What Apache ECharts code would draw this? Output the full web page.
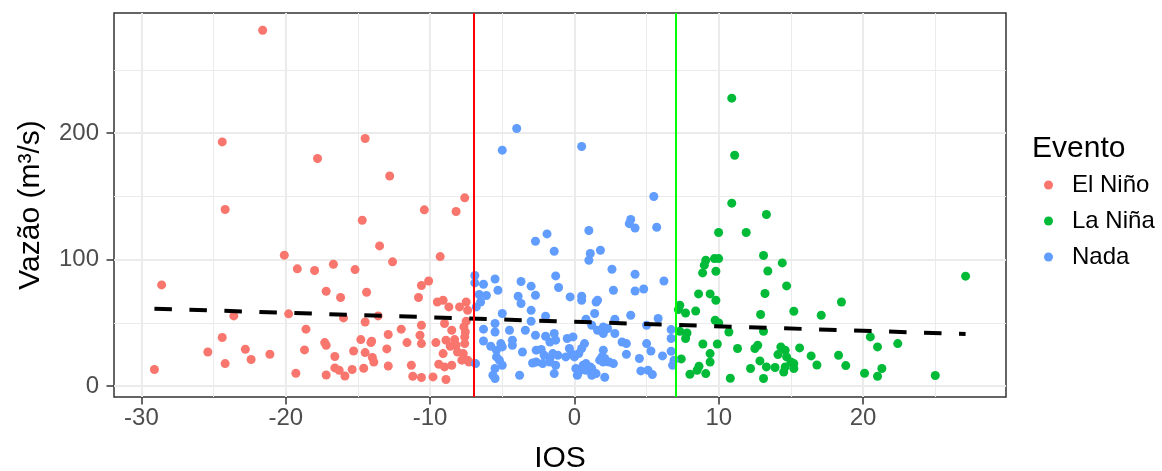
<!DOCTYPE html>
<html><head><meta charset="utf-8">
<script src="https://cdn.jsdelivr.net/npm/echarts@6/dist/echarts.min.js"></script>
<style>html,body{margin:0;padding:0;background:#fff}#c{width:1162px;height:471px}</style>
</head><body><div id="c"></div><script>
const categories = ['El Niño', 'La Niña', 'Nada'];
const colors = ['#F8766D', '#00BA38', '#619CFF'];

const elNino = [
[-21.6,281.4],[-24.4,193.1],[-14.5,195.8],[-17.8,180],[-12.8,166.2],[-24.2,139.7],[-14.7,131.2],[-13.5,110.9],
[-20.1,103.6],[-12.6,98.3],[-19.2,92.8],[-18.0,91.5],[-16.7,96.4],[-15.2,92.2],[-28.6,80.1],[-17.2,75.1],
[-16.2,70.1],[-14.4,74.3],[-19.8,57.2],[-23.6,55.6],[-16.0,54.0],[-14.5,50.8],[-13.6,55.6],[-18.6,45.1],
[-24.4,38.5],[-12.9,40.9],[-12.0,45.1],[-17.3,34.5],[-17.2,32.4],[-14.8,36.9],[-14.05,35.6],[-14.1,34.5],
[-25.4,27.1],[-22.8,29.2],[-18.7,28.7],[-21.1,25.3],[-22.4,21.1],[-24.2,17.9],[-15.3,27.9],[-14.5,26.6],
[-13.0,29.5],[-16.6,23.5],[-14.0,22.7],[-13.9,19.2],[-29.1,13.2],[-16.6,14.5],[-16.3,12.6],[-15.4,13.2],
[-14.6,14.2],[-12.9,16.0],[-19.3,10.3],[-17.2,8.9],[-15.9,8.1],
[-7.6,148.9],[-10.4,139.4],[-8.2,138.1],[-9.3,102.5],[-10.1,83.2],[-10.6,79.6],[-10.8,70.1],[-9.5,66.6],
[-9.1,68],[-8.7,62.7],[-7.96,62.7],[-7.5,66.6],[-7.4,60],[-10.6,48.2],[-9.0,49.6],[-8.5,44.3],[-7.66,46.9],
[-7.5,51.4],[-7.56,42.9],[-7.6,39],[-11.6,34.5],[-9.6,34.5],[-8.9,36.4],[-8.3,36.9],[-8.2,32.4],[-8.6,31.6],
[-7.6,33.7],[-10.7,40.3],[-10.6,33.7],[-9.1,25.8],[-8.1,27.1],[-7.7,25.8],[-7.8,20.6],[-7.4,20.6],[-7.3,19.2],
[-11.3,16.6],[-9.4,17.4],[-9.0,15.3],[-8.5,16.6],[-11.2,7.9],[-10.6,6.9],[-9.8,7.4],[-8.9,5.3]
];

const laNina = [
[10.9,227.7],[11.1,182.6],[10.9,144.7],[13.3,135.7],[9.99,121.5],[11.9,121.5],[13.1,103.3],[14.4,97.5],
[9.1,99.6],[9.0,95.7],[8.88,89.6],[9.7,100.9],[9.99,100.9],[9.8,90.9],[13.4,91.1],[14.7,79.3],[8.6,73],
[9.4,73],[9.8,68],[13.2,73.3],[7.3,64],[7.2,60.6],[7.7,57.9],[8.4,59.5],[12.9,56.7],[15.2,59.3],[9.75,52.2],
[10.0,50],[10.7,42.9],[13.1,43.5],[7.3,43.5],[7.8,42.1],[7.7,37.7],[8.9,33.4],[9.9,33.4],[11.3,29.8],
[12.5,29.8],[12.7,32.4],[14.3,31.1],[14.6,28.5],[14.1,25],[15.6,30.3],[16.4,24],[16.8,16.8],[18.3,24.5],
[18.8,16.3],[9.4,25.8],[9.4,19.2],[7.4,21.6],[8.63,15.8],[8.5,12.6],[9.1,10],[8.0,9.5],[10.8,6.3],[12.85,20],
[13.3,15.3],[13.9,14.8],[12.2,14],[14.7,23.2],[15.0,19.2],[15.2,17.9],[15.2,14],[14.6,15.3],[14.5,11.3],
[13.1,6.1],[17.1,56.1],[18.5,66.6],[20.5,39],[21.0,31.1],[22.4,33.7],[20.1,10.3],[21.0,7.9],[21.3,14],
[25.0,8.5],[27.1,87]
];

const nada = [
[-4.0,203.7],[-5.0,186.6],[0.5,189.5],[5.5,150],[3.9,131.8],[3.8,128.5],[4.2,125.1],[5.7,125.7],[1.0,123.1],
[-2.7,114.6],[-1.9,120.4],[-1.4,106.7],[1.1,104.9],[1.0,99.6],[1.8,107.5],[2.6,92.5],[4.2,88.5],[6.2,83.2],
[-1.3,87.2],[-6.9,87.5],[-6.9,81.7],[-6.3,80.6],[-5.5,84.8],[-5.3,75.9],[-3.7,82.8],[-3.0,79.1],[-2.7,71.9],
[-1.1,78],[-3.9,71.1],[-3.7,65.4],[-6.6,72.5],[-6.1,71.7],[-0.3,70.6],[0.5,71.1],[0.5,68],[1.5,66.6],[1.6,68],
[2.7,75.9],[4.2,75.3],[4.8,76.9],[-3.0,60],[-5.0,57.5],[-6.8,62.7],[-6.5,66.6],[-2.0,55.3],[-3.0,51.4],
[-5.5,49.6],[-5.5,42.9],[-6.3,45.1],[-4.5,44.3],[-3.4,44.3],[1.4,57.5],[0.8,53],[1.2,48.2],[2.0,46.9],
[2.3,45.6],[1.6,44.3],[2.8,53],[3.9,56.1],[5.0,48.2],[5.8,53.5],[2.8,41.7],[2.0,41.7],[3.3,35],[3.6,33.7],
[5.0,33.7],[5.3,27.9],[4.5,21.9],[3.6,25.3],[6.1,24],[6.7,44.8],[6.7,37.7],[6.7,27.7],[6.8,16.6],[6.9,20.6],
[4.6,12.1],[5.1,12.6],[5.4,9.2],[2.1,7.1],[1.5,10],[1.1,15.3],[0.6,16.6],[0.2,8.7],[0.1,14],[2.0,19.2],
[2.4,19.2],[2.7,17.9],[0.8,17.9],[0.8,12.6],[1.2,14],[1.2,8.7],[0.3,11.3],[-0.1,39],[0.7,33.7],[0.5,29.8],
[0.3,25.8],[0.0,23.2],[-0.2,25.8],[2.0,28.5],[1.9,23.2],[2.1,21.9],[1.75,20.6],[-2.7,40.3],[-2.0,39.5],
[-1.4,41.7],[-1.3,36.4],[-1.7,35],[-0.5,37.7],[-0.35,29.8],[-6.3,35.8],[-5.8,31.6],[-5.4,28.5],[-5.1,33.7],
[-5.0,31.1],[-4.3,36.4],[-4.3,32.4],[-5.4,23.2],[-5.2,20.6],[-5.0,16.6],[-5.5,14],[-5.65,8.7],[-5.5,6.1],
[-3.6,27.1],[-2.65,28.5],[-2.3,29],[-2.1,24.5],[-1.7,21.9],[-1.5,25.8],[-1.15,24.5],[-1.7,19.2],[-2.2,17.9],
[-2.65,19.2],[-2.9,18.4],[-1.3,16.6],[-1.4,10],[-3.8,8.7],[-6.85,17.9],[-0.6,23.2]
];

const xTicks = [-30, -20, -10, 0, 10, 20];
const xMinor = [-25, -15, -5, 5, 15, 25];
const yTicks = [0, 100, 200];
const yMinor = [50, 150, 250];
const trendLine = [[-29.1, 61.3], [27.1, 41.3]];
const vLines = [-7, 7];
const vLineColors = ['#FF0000', '#00FF00'];

const FONT = '"Liberation Sans", Arial, Helvetica, sans-serif';
const chart = echarts.init(document.getElementById('c'), null, {renderer: 'canvas'});

const gridLineData = [
  ...xMinor.map(v => ({xAxis: v, lineStyle: {color: '#EBEBEB', width: 1, type: 'solid'}})),
  ...yMinor.map(v => ({yAxis: v, lineStyle: {color: '#EBEBEB', width: 1, type: 'solid'}})),
  ...xTicks.map(v => ({xAxis: v, lineStyle: {color: '#EBEBEB', width: 2, type: 'solid'}})),
  ...yTicks.map(v => ({yAxis: v, lineStyle: {color: '#EBEBEB', width: 2, type: 'solid'}}))
];

const pointSeries = [elNino, laNina, nada].map((d, i) => ({
  name: categories[i], type: 'scatter', data: d, symbol: 'circle', symbolSize: 9,
  itemStyle: {color: colors[i], opacity: 1}, z: 2, silent: true
}));

chart.setOption({
  animation: false,
  backgroundColor: '#fff',
  title: {
    text: 'Evento', left: 1032, top: 134, padding: 0,
    textStyle: {fontSize: 30, fontWeight: 'normal', color: '#000', fontFamily: FONT}
  },
  legend: {
    data: categories, orient: 'vertical', left: 1044, top: 173, padding: 0,
    itemWidth: 9, itemHeight: 9, itemGap: 12, icon: 'circle', selectedMode: false,
    textStyle: {fontSize: 24, color: '#000', fontFamily: FONT, lineHeight: 24, padding: [0, 0, 0, 14]}
  },
  grid: {
    left: 114, right: 156, top: 13, bottom: 74, show: true, outerBoundsMode: 'none', containLabel: false,
    backgroundColor: '#fff', borderColor: '#333333', borderWidth: 1.5
  },
  xAxis: {
    type: 'value', min: -31.9, max: 29.9,
    name: 'IOS', nameLocation: 'middle', nameGap: 47,
    nameTextStyle: {fontSize: 30, color: '#000', fontFamily: FONT},
    axisLine: {show: false, onZero: false},
    axisTick: {show: true, customValues: xTicks, length: 7.5, lineStyle: {color: '#333333', width: 1.5}},
    axisLabel: {customValues: xTicks, fontSize: 24, color: '#4D4D4D', margin: 9, fontFamily: FONT},
    splitLine: {show: false}
  },
  yAxis: {
    type: 'value', min: -8.5, max: 295,
    name: 'Vazão (m³/s)', nameLocation: 'middle', nameGap: 68,
    nameTextStyle: {fontSize: 30, color: '#000', fontFamily: FONT},
    axisLine: {show: false, onZero: false},
    axisTick: {show: true, customValues: yTicks, length: 7.5, lineStyle: {color: '#333333', width: 1.5}},
    axisLabel: {customValues: yTicks, fontSize: 24, color: '#4D4D4D', margin: 15, fontFamily: FONT},
    splitLine: {show: false}
  },
  series: [
    {
      type: 'line', data: [], silent: true, z: 1,
      markLine: {silent: true, symbol: ['none', 'none'], z: 1, label: {show: false}, data: gridLineData}
    },
    ...pointSeries,
    {
      type: 'line', data: trendLine, showSymbol: false, symbol: 'none', silent: true, z: 3,
      lineStyle: {color: '#000', width: 4, type: [17.5, 17.5]}
    },
    {
      type: 'line', data: [], silent: true, z: 4,
      markLine: {
        silent: true, symbol: ['none', 'none'], z: 4, label: {show: false},
        data: vLines.map((v, i) => ({xAxis: v, lineStyle: {color: vLineColors[i], width: 2, type: 'solid'}}))
      }
    }
  ]
});
</script></body></html>
